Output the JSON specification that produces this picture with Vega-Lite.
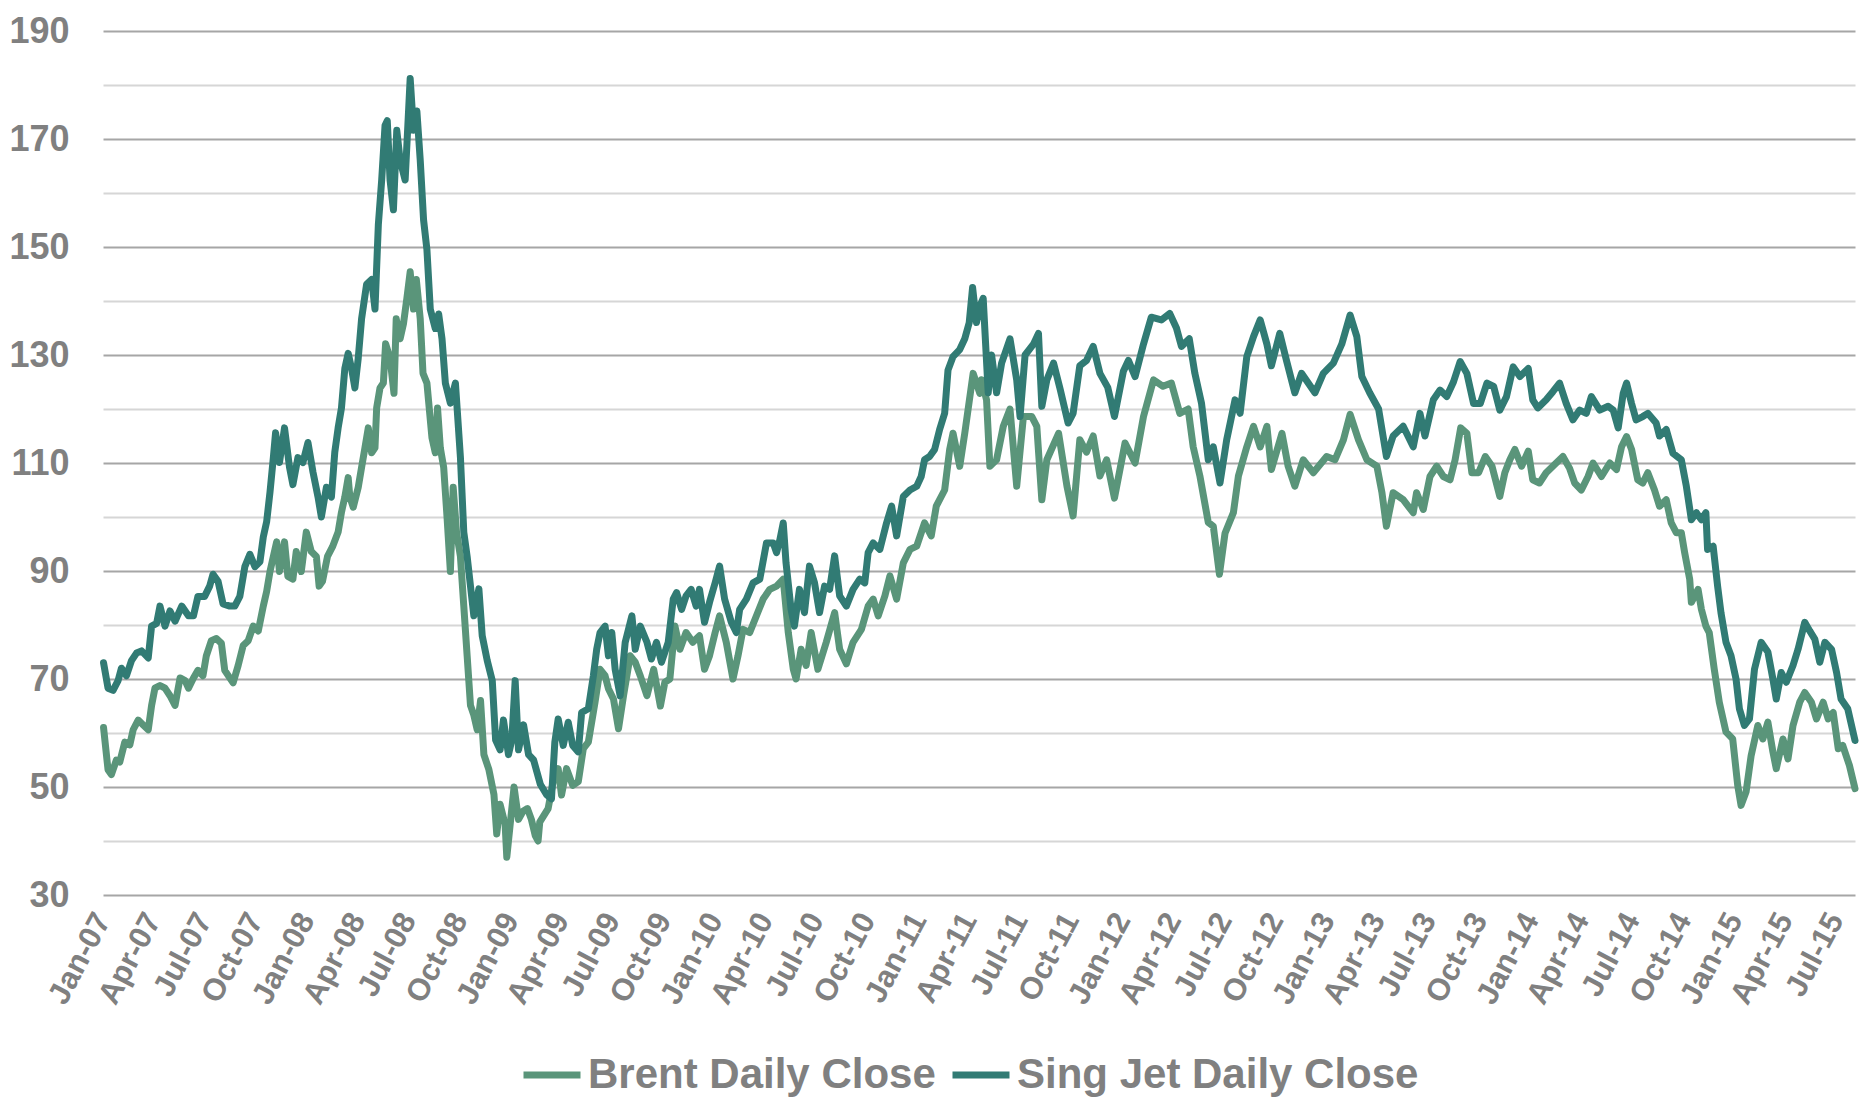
{
"$schema": "https://vega.github.io/schema/vega-lite/v6.json",
"width": 1752, "height": 864,
"autosize": {"type": "none"},
"padding": {"left": 103, "top": 31, "right": 11, "bottom": 203},
"background": "white",
"config": {"view": {"stroke": null}, "font": "Liberation Sans"},
"datasets": {
"brent": [
{"date":"2007-01-02","price":61},{"date":"2007-01-10","price":53.2},{"date":"2007-01-16","price":52.3},{"date":"2007-01-25","price":55},{"date":"2007-01-31","price":54.6},{"date":"2007-02-09","price":58.3},{"date":"2007-02-18","price":57.8},{"date":"2007-02-24","price":60.6},{"date":"2007-03-05","price":62.4},{"date":"2007-03-14","price":61.5},{"date":"2007-03-23","price":60.6},{"date":"2007-03-29","price":65.1},{"date":"2007-04-04","price":68.3},{"date":"2007-04-13","price":68.8},{"date":"2007-04-22","price":68.3},{"date":"2007-05-01","price":66.9},{"date":"2007-05-10","price":65.1},{"date":"2007-05-19","price":70.2},{"date":"2007-05-28","price":69.7},{"date":"2007-06-03","price":68.3},{"date":"2007-06-12","price":70.2},{"date":"2007-06-20","price":71.6},{"date":"2007-06-29","price":70.6},{"date":"2007-07-05","price":74.3},{"date":"2007-07-14","price":77.1},{"date":"2007-07-23","price":77.5},{"date":"2007-08-01","price":76.6},{"date":"2007-08-07","price":71.6},{"date":"2007-08-16","price":70.2},{"date":"2007-08-22","price":69.3},{"date":"2007-08-31","price":72.5},{"date":"2007-09-09","price":76.2},{"date":"2007-09-18","price":77.1},{"date":"2007-09-27","price":79.8},{"date":"2007-10-06","price":78.9},{"date":"2007-10-15","price":83.5},{"date":"2007-10-21","price":86.2},{"date":"2007-10-27","price":89.9},{"date":"2007-11-02","price":92.7},{"date":"2007-11-08","price":95.4},{"date":"2007-11-13","price":89.9},{"date":"2007-11-22","price":95.4},{"date":"2007-11-28","price":89},{"date":"2007-12-07","price":88.5},{"date":"2007-12-13","price":93.6},{"date":"2007-12-22","price":89.9},{"date":"2007-12-31","price":97.2},
{"date":"2008-01-09","price":93.6},{"date":"2008-01-18","price":92.7},{"date":"2008-01-23","price":87.2},{"date":"2008-01-29","price":88.1},{"date":"2008-02-07","price":92.7},{"date":"2008-02-16","price":94.5},{"date":"2008-02-26","price":97.2},{"date":"2008-03-03","price":100.9},{"date":"2008-03-09","price":103.7},{"date":"2008-03-15","price":107.3},{"date":"2008-03-18","price":103.7},{"date":"2008-03-24","price":101.8},{"date":"2008-04-02","price":105.5},{"date":"2008-04-08","price":109.2},{"date":"2008-04-14","price":112.8},{"date":"2008-04-20","price":116.5},{"date":"2008-04-26","price":111.9},{"date":"2008-05-02","price":112.8},{"date":"2008-05-05","price":120.2},{"date":"2008-05-11","price":123.9},{"date":"2008-05-17","price":124.8},{"date":"2008-05-21","price":132.1},{"date":"2008-05-29","price":129.4},{"date":"2008-06-05","price":122.9},{"date":"2008-06-09","price":136.7},{"date":"2008-06-16","price":133},{"date":"2008-06-22","price":135.8},{"date":"2008-06-28","price":140.4},{"date":"2008-07-04","price":145.4},{"date":"2008-07-10","price":138.5},{"date":"2008-07-15","price":144},{"date":"2008-07-22","price":136.7},{"date":"2008-07-27","price":126.6},{"date":"2008-08-03","price":124.8},{"date":"2008-08-12","price":114.7},{"date":"2008-08-18","price":111.9},{"date":"2008-08-22","price":120.2},{"date":"2008-08-27","price":112.8},{"date":"2008-09-02","price":109.2},{"date":"2008-09-08","price":100},{"date":"2008-09-14","price":89.9},{"date":"2008-09-19","price":105.5},{"date":"2008-09-25","price":97.2},{"date":"2008-10-02","price":92.7},{"date":"2008-10-08","price":83.5},{"date":"2008-10-14","price":74.3},{"date":"2008-10-20","price":65.1},{"date":"2008-10-26","price":63.3},{"date":"2008-11-01","price":60.6},{"date":"2008-11-07","price":66},{"date":"2008-11-13","price":56},{"date":"2008-11-22","price":53.2},{"date":"2008-12-01","price":48.6},{"date":"2008-12-06","price":41.3},{"date":"2008-12-12","price":46.8},{"date":"2008-12-21","price":43.1},{"date":"2008-12-24","price":37},{"date":"2008-12-29","price":42},
{"date":"2009-01-06","price":50},{"date":"2009-01-14","price":44},{"date":"2009-01-22","price":45.5},{"date":"2009-01-30","price":46},{"date":"2009-02-06","price":44},{"date":"2009-02-13","price":41},{"date":"2009-02-18","price":40},{"date":"2009-02-21","price":43.5},{"date":"2009-03-08","price":46},{"date":"2009-03-17","price":51},{"date":"2009-03-26","price":53.4},{"date":"2009-04-01","price":48.5},{"date":"2009-04-10","price":53.4},{"date":"2009-04-21","price":50.3},{"date":"2009-05-01","price":51},{"date":"2009-05-10","price":57.1},{"date":"2009-05-19","price":58.3},{"date":"2009-05-31","price":65.7},{"date":"2009-06-09","price":71.8},{"date":"2009-06-18","price":70.6},{"date":"2009-06-24","price":68.2},{"date":"2009-07-03","price":66.3},{"date":"2009-07-12","price":60.8},{"date":"2009-07-21","price":66.9},{"date":"2009-08-02","price":74.3},{"date":"2009-08-11","price":73.1},{"date":"2009-08-20","price":70.6},{"date":"2009-09-01","price":66.9},{"date":"2009-09-13","price":71.8},{"date":"2009-09-25","price":65},{"date":"2009-10-03","price":69.4},{"date":"2009-10-12","price":70},{"date":"2009-10-21","price":79.8},{"date":"2009-10-30","price":75.5},{"date":"2009-11-10","price":78.6},{"date":"2009-11-22","price":76.8},{"date":"2009-12-04","price":78},{"date":"2009-12-13","price":71.8},{"date":"2009-12-22","price":74.3},
{"date":"2010-01-01","price":78.6},{"date":"2010-01-09","price":81.7},{"date":"2010-01-21","price":76.8},{"date":"2010-02-02","price":70},{"date":"2010-02-11","price":74.3},{"date":"2010-02-20","price":79.2},{"date":"2010-03-04","price":78.6},{"date":"2010-03-16","price":81.7},{"date":"2010-03-28","price":84.8},{"date":"2010-04-09","price":86.6},{"date":"2010-04-21","price":87.2},{"date":"2010-05-03","price":88.5},{"date":"2010-05-12","price":78.6},{"date":"2010-05-21","price":71.8},{"date":"2010-05-26","price":70},{"date":"2010-06-04","price":75.5},{"date":"2010-06-13","price":72.5},{"date":"2010-06-22","price":78.6},{"date":"2010-07-04","price":71.8},{"date":"2010-07-19","price":76.8},{"date":"2010-08-03","price":82.3},{"date":"2010-08-12","price":75.5},{"date":"2010-08-24","price":72.8},{"date":"2010-09-05","price":76.8},{"date":"2010-09-20","price":79.2},{"date":"2010-10-02","price":83.5},{"date":"2010-10-11","price":84.8},{"date":"2010-10-20","price":81.7},{"date":"2010-11-01","price":85.4},{"date":"2010-11-10","price":89.1},{"date":"2010-11-22","price":84.8},{"date":"2010-12-04","price":91.5},{"date":"2010-12-16","price":94},{"date":"2010-12-28","price":94.6},
{"date":"2011-01-11","price":98.9},{"date":"2011-01-23","price":96.5},{"date":"2011-02-01","price":102},{"date":"2011-02-16","price":105},{"date":"2011-02-25","price":112.5},{"date":"2011-03-03","price":115.5},{"date":"2011-03-15","price":109.4},{"date":"2011-03-24","price":115.5},{"date":"2011-04-08","price":126.6},{"date":"2011-04-20","price":122.9},{"date":"2011-04-23","price":125.4},{"date":"2011-05-02","price":121.7},{"date":"2011-05-08","price":109.4},{"date":"2011-05-20","price":110.6},{"date":"2011-06-01","price":116.8},{"date":"2011-06-13","price":120},{"date":"2011-06-25","price":105.7},{"date":"2011-07-07","price":118.6},{"date":"2011-07-22","price":118.6},{"date":"2011-07-31","price":116.8},{"date":"2011-08-09","price":103.2},{"date":"2011-08-18","price":110.6},{"date":"2011-09-08","price":115.5},{"date":"2011-09-23","price":105.7},{"date":"2011-10-04","price":100.2},{"date":"2011-10-16","price":114.3},{"date":"2011-10-28","price":112},{"date":"2011-11-09","price":115},{"date":"2011-11-21","price":107.6},{"date":"2011-12-03","price":110.6},{"date":"2011-12-17","price":103.5},
{"date":"2012-01-05","price":113.7},{"date":"2012-01-23","price":110},{"date":"2012-02-07","price":118.6},{"date":"2012-02-25","price":125.4},{"date":"2012-03-13","price":124.2},{"date":"2012-03-28","price":124.8},{"date":"2012-04-12","price":119.2},{"date":"2012-04-27","price":120},{"date":"2012-05-06","price":113},{"date":"2012-05-18","price":107.6},{"date":"2012-06-02","price":99},{"date":"2012-06-11","price":98.3},{"date":"2012-06-22","price":89.4},{"date":"2012-07-02","price":97},{"date":"2012-07-17","price":100.8},{"date":"2012-07-26","price":107.6},{"date":"2012-08-10","price":113},{"date":"2012-08-22","price":116.8},{"date":"2012-09-03","price":113},{"date":"2012-09-15","price":116.8},{"date":"2012-09-23","price":108.8},{"date":"2012-10-12","price":115.5},{"date":"2012-10-23","price":109.4},{"date":"2012-11-04","price":105.7},{"date":"2012-11-19","price":110.6},{"date":"2012-12-07","price":108.2},{"date":"2012-12-31","price":111.2},
{"date":"2013-01-15","price":110.6},{"date":"2013-01-30","price":114.3},{"date":"2013-02-11","price":119},{"date":"2013-02-26","price":114.3},{"date":"2013-03-13","price":110.6},{"date":"2013-03-31","price":109.4},{"date":"2013-04-09","price":104.5},{"date":"2013-04-17","price":98.3},{"date":"2013-04-29","price":104.5},{"date":"2013-05-17","price":103.2},{"date":"2013-06-04","price":100.8},{"date":"2013-06-10","price":104.5},{"date":"2013-06-22","price":101.4},{"date":"2013-07-04","price":107.5},{"date":"2013-07-16","price":109.4},{"date":"2013-07-28","price":107.5},{"date":"2013-08-09","price":106.9},{"date":"2013-08-18","price":110.6},{"date":"2013-08-28","price":116.5},{"date":"2013-09-08","price":115.5},{"date":"2013-09-17","price":108.2},{"date":"2013-09-29","price":108.2},{"date":"2013-10-11","price":111.2},{"date":"2013-10-23","price":109.4},{"date":"2013-11-06","price":103.8},{"date":"2013-11-15","price":108.2},{"date":"2013-11-24","price":110.6},{"date":"2013-12-03","price":112.5},{"date":"2013-12-15","price":109.4},{"date":"2013-12-27","price":112.2},
{"date":"2014-01-04","price":106.9},{"date":"2014-01-16","price":106.3},{"date":"2014-01-28","price":108.2},{"date":"2014-02-09","price":109.4},{"date":"2014-02-27","price":111.2},{"date":"2014-03-11","price":109},{"date":"2014-03-20","price":106.3},{"date":"2014-04-01","price":105},{"date":"2014-04-13","price":107.5},{"date":"2014-04-22","price":110},{"date":"2014-05-07","price":107.5},{"date":"2014-05-22","price":110},{"date":"2014-06-03","price":108.8},{"date":"2014-06-12","price":113},{"date":"2014-06-21","price":114.9},{"date":"2014-06-30","price":112.5},{"date":"2014-07-11","price":106.9},{"date":"2014-07-20","price":106.3},{"date":"2014-07-29","price":108.2},{"date":"2014-08-10","price":105},{"date":"2014-08-19","price":102},{"date":"2014-08-31","price":103.2},{"date":"2014-09-09","price":98.9},{"date":"2014-09-18","price":97.1},{"date":"2014-09-27","price":97.1},{"date":"2014-10-03","price":93.4},{"date":"2014-10-12","price":88.5},{"date":"2014-10-15","price":84.2},{"date":"2014-10-27","price":86.6},{"date":"2014-11-02","price":82.9},{"date":"2014-11-10","price":79.8},{"date":"2014-11-16","price":78.6},{"date":"2014-11-25","price":71.8},{"date":"2014-12-04","price":65.7},{"date":"2014-12-16","price":60.2},{"date":"2014-12-28","price":58.9},
{"date":"2015-01-06","price":50.3},{"date":"2015-01-12","price":46.6},{"date":"2015-01-21","price":49.1},{"date":"2015-01-30","price":55.8},{"date":"2015-02-11","price":61.4},{"date":"2015-02-20","price":58.9},{"date":"2015-03-01","price":62},{"date":"2015-03-10","price":56.5},{"date":"2015-03-16","price":53.4},{"date":"2015-03-28","price":58.9},{"date":"2015-04-06","price":55.2},{"date":"2015-04-15","price":61.4},{"date":"2015-04-27","price":65.7},{"date":"2015-05-06","price":67.5},{"date":"2015-05-18","price":65.7},{"date":"2015-05-27","price":62.6},{"date":"2015-06-08","price":65.7},{"date":"2015-06-17","price":62.6},{"date":"2015-06-26","price":63.8},{"date":"2015-07-05","price":57.1},{"date":"2015-07-13","price":57.7},{"date":"2015-07-25","price":54},{"date":"2015-08-04","price":49.7}
],
"jet": [
{"date":"2007-01-02","price":73},{"date":"2007-01-10","price":68.3},{"date":"2007-01-19","price":67.9},{"date":"2007-01-28","price":69.7},{"date":"2007-02-03","price":72},{"date":"2007-02-12","price":70.6},{"date":"2007-02-21","price":73.4},{"date":"2007-03-02","price":74.8},{"date":"2007-03-11","price":75.2},{"date":"2007-03-23","price":73.9},{"date":"2007-03-29","price":79.8},{"date":"2007-04-07","price":80.3},{"date":"2007-04-13","price":83.5},{"date":"2007-04-22","price":79.8},{"date":"2007-05-01","price":82.6},{"date":"2007-05-10","price":80.7},{"date":"2007-05-22","price":83.5},{"date":"2007-06-03","price":81.7},{"date":"2007-06-12","price":81.7},{"date":"2007-06-20","price":85.3},{"date":"2007-07-02","price":85.3},{"date":"2007-07-11","price":87.2},{"date":"2007-07-17","price":89.4},{"date":"2007-07-26","price":88.1},{"date":"2007-08-04","price":83.9},{"date":"2007-08-16","price":83.5},{"date":"2007-08-25","price":83.5},{"date":"2007-09-03","price":85.3},{"date":"2007-09-12","price":90.8},{"date":"2007-09-21","price":93.1},{"date":"2007-09-30","price":90.8},{"date":"2007-10-09","price":91.7},{"date":"2007-10-15","price":96.3},{"date":"2007-10-21","price":99.1},{"date":"2007-10-27","price":104.6},{"date":"2007-11-02","price":111},{"date":"2007-11-06","price":115.6},{"date":"2007-11-13","price":110.1},{"date":"2007-11-22","price":116.5},{"date":"2007-12-01","price":109.2},{"date":"2007-12-07","price":106},{"date":"2007-12-16","price":111},{"date":"2007-12-25","price":110.1},
{"date":"2008-01-03","price":113.8},{"date":"2008-01-12","price":108.3},{"date":"2008-01-21","price":103.7},{"date":"2008-01-27","price":100},{"date":"2008-02-05","price":105.5},{"date":"2008-02-14","price":103.7},{"date":"2008-02-20","price":112},{"date":"2008-02-26","price":116.5},{"date":"2008-03-03","price":120.2},{"date":"2008-03-09","price":127.5},{"date":"2008-03-15","price":130.3},{"date":"2008-03-21","price":127.5},{"date":"2008-03-27","price":123.9},{"date":"2008-04-02","price":129.4},{"date":"2008-04-08","price":136.7},{"date":"2008-04-17","price":143.1},{"date":"2008-04-26","price":144},{"date":"2008-05-02","price":138.5},{"date":"2008-05-08","price":154.1},{"date":"2008-05-14","price":162.4},{"date":"2008-05-20","price":172.5},{"date":"2008-05-24","price":173.4},{"date":"2008-05-29","price":162.4},{"date":"2008-06-04","price":156.9},{"date":"2008-06-10","price":171.6},{"date":"2008-06-16","price":166.1},{"date":"2008-06-25","price":162.4},{"date":"2008-07-04","price":181.2},{"date":"2008-07-10","price":171.6},{"date":"2008-07-16","price":175.2},{"date":"2008-07-22","price":166.1},{"date":"2008-07-28","price":155},{"date":"2008-08-03","price":149.5},{"date":"2008-08-09","price":138.5},{"date":"2008-08-18","price":134.9},{"date":"2008-08-24","price":137.6},{"date":"2008-08-30","price":133},{"date":"2008-09-05","price":124.8},{"date":"2008-09-14","price":121.1},{"date":"2008-09-23","price":124.8},{"date":"2008-10-02","price":111},{"date":"2008-10-08","price":97.2},{"date":"2008-10-14","price":92.7},{"date":"2008-10-20","price":87.2},{"date":"2008-10-26","price":81.7},{"date":"2008-11-04","price":86.7},{"date":"2008-11-10","price":78},{"date":"2008-11-19","price":73.4},{"date":"2008-11-28","price":69.7},{"date":"2008-12-04","price":58.7},{"date":"2008-12-12","price":56.9},{"date":"2008-12-18","price":62.4},{"date":"2008-12-27","price":56},
{"date":"2009-01-02","price":58.7},{"date":"2009-01-08","price":69.7},{"date":"2009-01-14","price":56.9},{"date":"2009-01-23","price":61.5},{"date":"2009-02-01","price":56},{"date":"2009-02-10","price":55},{"date":"2009-02-22","price":50.5},{"date":"2009-03-05","price":48.6},{"date":"2009-03-14","price":47.8},{"date":"2009-03-20","price":58.3},{"date":"2009-03-26","price":62.6},{"date":"2009-04-04","price":57.7},{"date":"2009-04-13","price":62},{"date":"2009-04-21","price":57.7},{"date":"2009-05-01","price":56.5},{"date":"2009-05-07","price":63.8},{"date":"2009-05-19","price":64.5},{"date":"2009-05-28","price":70.6},{"date":"2009-06-03","price":75.5},{"date":"2009-06-09","price":78.6},{"date":"2009-06-18","price":79.8},{"date":"2009-06-24","price":74.3},{"date":"2009-06-30","price":78.6},{"date":"2009-07-06","price":71.8},{"date":"2009-07-15","price":66.9},{"date":"2009-07-24","price":76.8},{"date":"2009-08-05","price":81.7},{"date":"2009-08-11","price":75.5},{"date":"2009-08-20","price":79.8},{"date":"2009-09-01","price":76.8},{"date":"2009-09-09","price":73.7},{"date":"2009-09-18","price":76.8},{"date":"2009-09-27","price":73.1},{"date":"2009-10-09","price":76.8},{"date":"2009-10-18","price":84.8},{"date":"2009-10-24","price":86},{"date":"2009-11-02","price":82.9},{"date":"2009-11-10","price":85.4},{"date":"2009-11-19","price":86.6},{"date":"2009-11-28","price":83.5},{"date":"2009-12-04","price":86.6},{"date":"2009-12-13","price":80.5},{"date":"2009-12-22","price":84.2},
{"date":"2010-01-01","price":87.8},{"date":"2010-01-09","price":90.9},{"date":"2010-01-18","price":84.8},{"date":"2010-01-30","price":80.5},{"date":"2010-02-08","price":78.6},{"date":"2010-02-14","price":82.9},{"date":"2010-02-26","price":84.8},{"date":"2010-03-10","price":87.8},{"date":"2010-03-22","price":88.5},{"date":"2010-04-03","price":95.2},{"date":"2010-04-15","price":95.2},{"date":"2010-04-21","price":93.4},{"date":"2010-04-27","price":95.8},{"date":"2010-05-03","price":98.9},{"date":"2010-05-08","price":91.5},{"date":"2010-05-17","price":82.9},{"date":"2010-05-23","price":79.8},{"date":"2010-06-01","price":86.6},{"date":"2010-06-10","price":82.3},{"date":"2010-06-19","price":90.9},{"date":"2010-06-28","price":87.8},{"date":"2010-07-07","price":82.3},{"date":"2010-07-16","price":87.2},{"date":"2010-07-25","price":86.6},{"date":"2010-08-03","price":92.8},{"date":"2010-08-12","price":85.4},{"date":"2010-08-24","price":83.5},{"date":"2010-09-05","price":86.6},{"date":"2010-09-17","price":88.5},{"date":"2010-09-26","price":87.8},{"date":"2010-10-02","price":93.4},{"date":"2010-10-11","price":95.2},{"date":"2010-10-23","price":94},{"date":"2010-11-04","price":98.9},{"date":"2010-11-13","price":102},{"date":"2010-11-22","price":96.5},{"date":"2010-12-04","price":103.8},{"date":"2010-12-16","price":105},{"date":"2010-12-28","price":105.7},
{"date":"2011-01-05","price":107.5},{"date":"2011-01-11","price":110.6},{"date":"2011-01-20","price":111.2},{"date":"2011-01-29","price":112.5},{"date":"2011-02-07","price":116.2},{"date":"2011-02-16","price":119.2},{"date":"2011-02-22","price":127.2},{"date":"2011-03-03","price":129.7},{"date":"2011-03-15","price":131},{"date":"2011-03-24","price":133},{"date":"2011-04-01","price":136},{"date":"2011-04-07","price":142.5},{"date":"2011-04-14","price":136},{"date":"2011-04-20","price":139},{"date":"2011-04-26","price":140.5},{"date":"2011-05-05","price":123},{"date":"2011-05-11","price":130},{"date":"2011-05-20","price":123},{"date":"2011-05-29","price":128.5},{"date":"2011-06-13","price":133},{"date":"2011-06-25","price":125.4},{"date":"2011-07-01","price":118.6},{"date":"2011-07-10","price":130},{"date":"2011-07-25","price":132},{"date":"2011-08-03","price":134},{"date":"2011-08-09","price":120.5},{"date":"2011-08-18","price":125.4},{"date":"2011-08-30","price":128.5},{"date":"2011-09-11","price":123.6},{"date":"2011-09-25","price":117.4},{"date":"2011-10-04","price":119.2},{"date":"2011-10-16","price":128},{"date":"2011-10-28","price":129},{"date":"2011-11-09","price":131.6},{"date":"2011-11-21","price":126.6},{"date":"2011-12-05","price":124},{"date":"2011-12-17","price":118.6},
{"date":"2012-01-02","price":127},{"date":"2012-01-11","price":129},{"date":"2012-01-23","price":126},{"date":"2012-02-07","price":132},{"date":"2012-02-21","price":137},{"date":"2012-03-10","price":136.5},{"date":"2012-03-25","price":137.7},{"date":"2012-04-06","price":135},{"date":"2012-04-15","price":131.6},{"date":"2012-04-29","price":133},{"date":"2012-05-09","price":126.6},{"date":"2012-05-21","price":121},{"date":"2012-06-02","price":110.6},{"date":"2012-06-11","price":113},{"date":"2012-06-23","price":106.3},{"date":"2012-07-05","price":114.3},{"date":"2012-07-20","price":121.7},{"date":"2012-07-29","price":119.2},{"date":"2012-08-10","price":129.7},{"date":"2012-08-22","price":133.4},{"date":"2012-09-03","price":136.5},{"date":"2012-09-15","price":132},{"date":"2012-09-23","price":128},{"date":"2012-10-08","price":134},{"date":"2012-10-20","price":129},{"date":"2012-11-04","price":123},{"date":"2012-11-16","price":126.6},{"date":"2012-12-10","price":123},{"date":"2012-12-25","price":126.6},
{"date":"2013-01-12","price":128.5},{"date":"2013-01-27","price":132},{"date":"2013-02-11","price":137.4},{"date":"2013-02-23","price":133.4},{"date":"2013-03-04","price":126},{"date":"2013-03-18","price":123},{"date":"2013-04-03","price":120},{"date":"2013-04-17","price":111.2},{"date":"2013-04-29","price":115},{"date":"2013-05-17","price":116.8},{"date":"2013-06-04","price":113},{"date":"2013-06-16","price":119.2},{"date":"2013-06-25","price":115},{"date":"2013-07-10","price":121.7},{"date":"2013-07-22","price":123.5},{"date":"2013-08-03","price":122.3},{"date":"2013-08-15","price":125},{"date":"2013-08-27","price":128.8},{"date":"2013-09-08","price":126.6},{"date":"2013-09-20","price":121},{"date":"2013-10-02","price":121},{"date":"2013-10-14","price":124.8},{"date":"2013-10-26","price":124.2},{"date":"2013-11-06","price":119.8},{"date":"2013-11-18","price":122.3},{"date":"2013-11-30","price":127.8},{"date":"2013-12-12","price":126},{"date":"2013-12-27","price":127.5},
{"date":"2014-01-04","price":121.7},{"date":"2014-01-13","price":120.2},{"date":"2014-01-28","price":121.7},{"date":"2014-02-09","price":123.2},{"date":"2014-02-21","price":124.8},{"date":"2014-03-05","price":121},{"date":"2014-03-17","price":118},{"date":"2014-03-29","price":119.8},{"date":"2014-04-10","price":119.2},{"date":"2014-04-19","price":122.3},{"date":"2014-05-04","price":119.8},{"date":"2014-05-19","price":120.5},{"date":"2014-05-28","price":119.8},{"date":"2014-06-06","price":116.5},{"date":"2014-06-15","price":122.9},{"date":"2014-06-21","price":124.8},{"date":"2014-06-30","price":121},{"date":"2014-07-08","price":118},{"date":"2014-07-20","price":118.6},{"date":"2014-07-29","price":119.2},{"date":"2014-08-13","price":117.4},{"date":"2014-08-19","price":115},{"date":"2014-08-31","price":116.2},{"date":"2014-09-12","price":111.8},{"date":"2014-09-27","price":110.6},{"date":"2014-10-06","price":105.7},{"date":"2014-10-15","price":99.5},{"date":"2014-10-24","price":100.8},{"date":"2014-11-02","price":99.5},{"date":"2014-11-10","price":100.8},{"date":"2014-11-13","price":94},{"date":"2014-11-23","price":94.6},{"date":"2014-12-01","price":87.2},{"date":"2014-12-07","price":82.3},{"date":"2014-12-16","price":76.8},{"date":"2014-12-25","price":74.3},
{"date":"2015-01-03","price":70},{"date":"2015-01-09","price":64.5},{"date":"2015-01-18","price":61.4},{"date":"2015-01-27","price":62.6},{"date":"2015-02-05","price":71.8},{"date":"2015-02-17","price":76.8},{"date":"2015-03-01","price":75},{"date":"2015-03-10","price":70},{"date":"2015-03-16","price":66.3},{"date":"2015-03-25","price":71.2},{"date":"2015-04-03","price":69.4},{"date":"2015-04-15","price":72.5},{"date":"2015-04-24","price":75.5},{"date":"2015-05-06","price":80.5},{"date":"2015-05-15","price":78.9},{"date":"2015-05-24","price":77.4},{"date":"2015-06-02","price":73.1},{"date":"2015-06-11","price":76.8},{"date":"2015-06-23","price":75.5},{"date":"2015-07-02","price":71.2},{"date":"2015-07-10","price":66.3},{"date":"2015-07-22","price":64.5},{"date":"2015-08-04","price":58.6}
]
},
"encoding": {
 "x": {"field": "date", "type": "temporal",
  "scale": {"domain": [{"year": 2007, "month": 1, "date": 1}, {"year": 2015, "month": 8, "date": 4}]},
  "axis": {"title": null, "format": "%b-%y", "labelAngle": -62, "labelFontSize": 31, "labelFontWeight": "bold", "labelColor": "#808080", "labelFont": "Liberation Sans", "ticks": false, "tickSize": 0, "domain": false, "grid": false, "labelPadding": 20, "labelOverlap": false, "labelFlush": false, "labelBound": false,
   "values": [
    {"year": 2007, "month": 1, "date": 1}, {"year": 2007, "month": 4, "date": 1}, {"year": 2007, "month": 7, "date": 1}, {"year": 2007, "month": 10, "date": 1},
    {"year": 2008, "month": 1, "date": 1}, {"year": 2008, "month": 4, "date": 1}, {"year": 2008, "month": 7, "date": 1}, {"year": 2008, "month": 10, "date": 1},
    {"year": 2009, "month": 1, "date": 1}, {"year": 2009, "month": 4, "date": 1}, {"year": 2009, "month": 7, "date": 1}, {"year": 2009, "month": 10, "date": 1},
    {"year": 2010, "month": 1, "date": 1}, {"year": 2010, "month": 4, "date": 1}, {"year": 2010, "month": 7, "date": 1}, {"year": 2010, "month": 10, "date": 1},
    {"year": 2011, "month": 1, "date": 1}, {"year": 2011, "month": 4, "date": 1}, {"year": 2011, "month": 7, "date": 1}, {"year": 2011, "month": 10, "date": 1},
    {"year": 2012, "month": 1, "date": 1}, {"year": 2012, "month": 4, "date": 1}, {"year": 2012, "month": 7, "date": 1}, {"year": 2012, "month": 10, "date": 1},
    {"year": 2013, "month": 1, "date": 1}, {"year": 2013, "month": 4, "date": 1}, {"year": 2013, "month": 7, "date": 1}, {"year": 2013, "month": 10, "date": 1},
    {"year": 2014, "month": 1, "date": 1}, {"year": 2014, "month": 4, "date": 1}, {"year": 2014, "month": 7, "date": 1}, {"year": 2014, "month": 10, "date": 1},
    {"year": 2015, "month": 1, "date": 1}, {"year": 2015, "month": 4, "date": 1}, {"year": 2015, "month": 7, "date": 1}
   ]}},
 "y": {"field": "price", "type": "quantitative",
  "scale": {"domain": [30, 190], "nice": false, "zero": false},
  "axis": {"title": null, "values": [30,40,50,60,70,80,90,100,110,120,130,140,150,160,170,180,190],
   "labelExpr": "datum.value % 20 == 10 ? datum.label : ''",
   "labelFontSize": 36, "labelFontWeight": "bold", "labelColor": "#808080", "labelFont": "Liberation Sans",
   "ticks": false, "tickSize": 0, "domain": false, "grid": true, "gridWidth": 2,
   "gridColor": {"condition": {"test": "datum.value % 20 == 10", "value": "#a6a6a6"}, "value": "#d6d6d6"},
   "labelPadding": 34}},
 "color": {"type": "nominal",
  "scale": {"domain": ["Brent Daily Close", "Sing Jet Daily Close"], "range": ["#5A957A", "#317B74"]},
  "legend": {"title": null, "orient": "none", "legendX": 417, "legendY": 1012, "direction": "horizontal", "padding": 0,
   "symbolType": "stroke", "symbolSize": 3249, "symbolStrokeWidth": 7, "symbolOpacity": 1,
   "labelFontSize": 42, "labelFontWeight": "bold", "labelColor": "#808080", "labelFont": "Liberation Sans",
   "labelOffset": 4, "columnPadding": 2, "labelLimit": 1000}}
},
"layer": [
{"data": {"name": "brent"},
 "mark": {"type": "line", "strokeWidth": 7, "strokeJoin": "round", "strokeCap": "round"},
 "encoding": {"color": {"datum": "Brent Daily Close", "type": "nominal"}}},
{"data": {"name": "jet"},
 "mark": {"type": "line", "strokeWidth": 7, "strokeJoin": "round", "strokeCap": "round"},
 "encoding": {"color": {"datum": "Sing Jet Daily Close", "type": "nominal"}}}
]
}
